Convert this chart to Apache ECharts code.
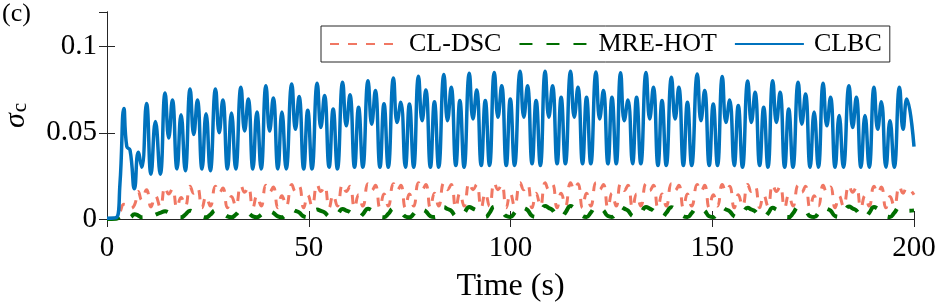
<!DOCTYPE html>
<html><head><meta charset="utf-8">
<script src="https://cdn.jsdelivr.net/npm/echarts@6/dist/echarts.min.js"></script>
<style>html,body{margin:0;padding:0;background:#fff}#c{width:941px;height:305px}</style>
</head><body><div id="c"></div>
<script>
const seriesNames = ['CL-DSC', 'MRE-HOT', 'CLBC'];
const xTickLabels = ['0', '50', '100', '150', '200'];
const yTickLabels = ['0', '0.05', '0.1'];

const time = [
  0, 2.3, 3.2, 4.2, 4.9, 5.7, 6.8, 7.75, 8.6, 9.8, 10.9, 12.0, 13.2,
  14.4, 15.3, 16.2, 17.35, 18.35, 19.4,
  20.6, 21.5, 22.4, 23.55, 24.55, 25.6,
  26.9, 27.8, 28.7, 29.85, 30.85, 31.9,
  33.2, 34.1, 35.0, 36.15, 37.15, 38.2,
  39.4, 40.3, 41.2, 42.35, 43.35, 44.4,
  45.8, 46.7, 47.6, 48.75, 49.75, 50.8,
  52.1, 53.0, 53.9, 55.05, 56.05, 57.1,
  58.4, 59.3, 60.2, 61.35, 62.35, 63.4,
  64.7, 65.6, 66.5, 67.65, 68.65, 69.7,
  71.0, 71.9, 72.8, 73.95, 74.95, 76.0,
  77.2, 78.1, 79.0, 80.15, 81.15, 82.2,
  83.5, 84.4, 85.3, 86.45, 87.45, 88.5,
  89.8, 90.7, 91.6, 92.75, 93.75, 94.8,
  96.0, 96.9, 97.8, 98.95, 99.95, 101.0,
  102.4, 103.3, 104.2, 105.35, 106.35, 107.4,
  108.6, 109.5, 110.4, 111.55, 112.55, 113.6,
  114.9, 115.8, 116.7, 117.85, 118.85, 119.9,
  121.2, 122.1, 123.0, 124.15, 125.15, 126.2,
  127.3, 128.2, 129.1, 130.25, 131.25, 132.3,
  133.6, 134.5, 135.4, 136.55, 137.55, 138.6,
  139.9, 140.8, 141.7, 142.85, 143.85, 144.9,
  146.3, 147.2, 148.1, 149.25, 150.25, 151.3,
  152.5, 153.4, 154.3, 155.45, 156.45, 157.5,
  158.8, 159.7, 160.6, 161.75, 162.75, 163.8,
  165.0, 165.9, 166.8, 167.95, 168.95, 170.0,
  171.3, 172.2, 173.1, 174.25, 175.25, 176.3,
  177.5, 178.4, 179.3, 180.45, 181.45, 182.5,
  183.9, 184.8, 185.7, 186.85, 187.85, 188.9,
  190.1, 191.0, 191.9, 193.05, 194.05, 195.1,
  196.4, 197.3, 198.2, 200
];

const clbc = [
  0.0005, 0.0008, 0.02, 0.064, 0.042, 0.040, 0.0175, 0.0387, 0.030, 0.067, 0.026, 0.0565, 0.026,
  0.073, 0.047, 0.069, 0.029, 0.0605, 0.028,
  0.0754, 0.049, 0.069, 0.029, 0.061, 0.028,
  0.0754, 0.050, 0.069, 0.029, 0.0615, 0.029,
  0.0764, 0.051, 0.0696, 0.029, 0.062, 0.029,
  0.0773, 0.051, 0.0702, 0.029, 0.062, 0.029,
  0.0783, 0.052, 0.071, 0.029, 0.063, 0.029,
  0.0787, 0.053, 0.0716, 0.030, 0.0638, 0.029,
  0.0793, 0.054, 0.072, 0.030, 0.0648, 0.030,
  0.0802, 0.055, 0.0745, 0.030, 0.0668, 0.030,
  0.0818, 0.056, 0.0677, 0.030, 0.0667, 0.030,
  0.0827, 0.057, 0.0748, 0.030, 0.068, 0.030,
  0.0837, 0.057, 0.0764, 0.031, 0.0687, 0.030,
  0.0845, 0.058, 0.0748, 0.031, 0.0687, 0.031,
  0.085, 0.059, 0.0773, 0.031, 0.0696, 0.031,
  0.0856, 0.059, 0.0773, 0.032, 0.0687, 0.031,
  0.0856, 0.059, 0.0773, 0.032, 0.0706, 0.032,
  0.0856, 0.059, 0.0764, 0.032, 0.0706, 0.032,
  0.0852, 0.058, 0.0745, 0.032, 0.0706, 0.032,
  0.0848, 0.057, 0.069, 0.032, 0.0706, 0.032,
  0.085, 0.058, 0.0764, 0.031, 0.0687, 0.031,
  0.0822, 0.058, 0.0764, 0.031, 0.0677, 0.031,
  0.0841, 0.057, 0.0745, 0.031, 0.0667, 0.031,
  0.0826, 0.056, 0.069, 0.031, 0.0658, 0.030,
  0.080, 0.056, 0.0735, 0.031, 0.0648, 0.030,
  0.0802, 0.056, 0.0735, 0.030, 0.0638, 0.030,
  0.0793, 0.055, 0.0725, 0.030, 0.062, 0.030,
  0.0787, 0.054, 0.0706, 0.030, 0.060, 0.030,
  0.0773, 0.053, 0.0706, 0.030, 0.060, 0.030,
  0.0764, 0.052, 0.068, 0.030, 0.057, 0.030,
  0.0764, 0.052, 0.0696, 0.042
];

const clDsc = [
  0, 0.0003, 0.004, 0.0085, 0.008, 0.006, 0.008, 0.016, 0.011, 0.017, 0.007, 0.0135, 0.007,
  0.0185, 0.0145, 0.0175, 0.0065, 0.0125, 0.0075,
  0.019, 0.015, 0.018, 0.0065, 0.013, 0.0075,
  0.019, 0.015, 0.018, 0.0065, 0.013, 0.0075,
  0.0195, 0.0155, 0.0185, 0.0065, 0.0135, 0.0075,
  0.0195, 0.0155, 0.0185, 0.0065, 0.0135, 0.0075,
  0.020, 0.016, 0.019, 0.0065, 0.014, 0.0075,
  0.020, 0.016, 0.019, 0.0065, 0.014, 0.0075,
  0.020, 0.016, 0.019, 0.0065, 0.014, 0.0075,
  0.0205, 0.0165, 0.0195, 0.0065, 0.0145, 0.0075,
  0.0205, 0.0165, 0.0195, 0.0065, 0.0145, 0.0075,
  0.021, 0.017, 0.020, 0.0065, 0.015, 0.0075,
  0.021, 0.017, 0.020, 0.0065, 0.015, 0.0075,
  0.021, 0.017, 0.020, 0.0065, 0.015, 0.0075,
  0.021, 0.017, 0.020, 0.0065, 0.015, 0.0075,
  0.021, 0.017, 0.020, 0.0065, 0.015, 0.0075,
  0.021, 0.017, 0.020, 0.0065, 0.015, 0.0075,
  0.021, 0.017, 0.0205, 0.0065, 0.015, 0.0075,
  0.021, 0.017, 0.020, 0.0065, 0.015, 0.0075,
  0.0205, 0.0165, 0.0195, 0.0065, 0.0145, 0.0075,
  0.0205, 0.0165, 0.0195, 0.0065, 0.0145, 0.0075,
  0.0205, 0.0165, 0.0195, 0.0065, 0.0145, 0.0075,
  0.020, 0.016, 0.0195, 0.0065, 0.014, 0.0075,
  0.020, 0.016, 0.019, 0.0065, 0.014, 0.0075,
  0.020, 0.016, 0.019, 0.0065, 0.014, 0.0075,
  0.020, 0.016, 0.019, 0.0065, 0.014, 0.0075,
  0.0195, 0.0155, 0.019, 0.0065, 0.0135, 0.0075,
  0.0195, 0.0155, 0.0185, 0.0065, 0.0135, 0.0075,
  0.0195, 0.0155, 0.0185, 0.0065, 0.0135, 0.0075,
  0.019, 0.015, 0.0185, 0.0065, 0.013, 0.0075,
  0.019, 0.015, 0.018, 0.014
];

const mreHot = [
  0, 0.0002, 0.0015, 0.003, 0.0015, 0.001, 0.0028, 0.002, 0.001, 0.0012, 0.001, 0.0025, 0.0035,
  0.0045, 0.0038, 0.0032, 0.0015, 0.001, 0.0025,
  0.0048, 0.004, 0.0034, 0.0015, 0.001, 0.0025,
  0.005, 0.0042, 0.0035, 0.0015, 0.001, 0.0025,
  0.005, 0.0042, 0.0035, 0.0015, 0.001, 0.0025,
  0.0052, 0.0044, 0.0036, 0.0015, 0.001, 0.0026,
  0.0055, 0.0047, 0.0038, 0.0015, 0.001, 0.0027,
  0.0055, 0.0047, 0.0038, 0.0015, 0.001, 0.0027,
  0.0058, 0.0049, 0.004, 0.0015, 0.001, 0.0028,
  0.006, 0.0051, 0.0042, 0.0015, 0.001, 0.003,
  0.006, 0.0051, 0.0042, 0.0015, 0.001, 0.003,
  0.0065, 0.0055, 0.0045, 0.0016, 0.0011, 0.0032,
  0.0068, 0.0058, 0.0048, 0.0016, 0.0011, 0.0034,
  0.007, 0.006, 0.0049, 0.0017, 0.0012, 0.0035,
  0.0072, 0.0061, 0.005, 0.0017, 0.0012, 0.0036,
  0.0075, 0.0064, 0.0052, 0.0018, 0.0012, 0.0037,
  0.0075, 0.0064, 0.0052, 0.0018, 0.0012, 0.0037,
  0.0075, 0.0064, 0.0052, 0.0018, 0.0012, 0.0037,
  0.0072, 0.0061, 0.005, 0.0017, 0.0012, 0.0036,
  0.007, 0.006, 0.0049, 0.0017, 0.0012, 0.0035,
  0.007, 0.006, 0.0049, 0.0017, 0.0012, 0.0035,
  0.0068, 0.0058, 0.0048, 0.0016, 0.0011, 0.0034,
  0.0068, 0.0058, 0.0048, 0.0016, 0.0011, 0.0034,
  0.0065, 0.0055, 0.0045, 0.0016, 0.0011, 0.0032,
  0.0065, 0.0055, 0.0045, 0.0016, 0.0011, 0.0032,
  0.0065, 0.0055, 0.0045, 0.0016, 0.0011, 0.0032,
  0.0068, 0.0058, 0.0048, 0.0016, 0.0011, 0.0034,
  0.007, 0.006, 0.0049, 0.0017, 0.0012, 0.0035,
  0.0072, 0.0061, 0.005, 0.0017, 0.0012, 0.0036,
  0.007, 0.006, 0.0049, 0.0017, 0.0012, 0.0035,
  0.0068, 0.0058, 0.0048, 0.005
];

const FONT = 'Liberation Serif';
const AX = '#262626';
const pairs = vals => time.map((t, i) => [t, vals[i]]);

const chart = echarts.init(document.getElementById('c'), null, {renderer: 'canvas'});
const xBase = {
  type: 'value', min: 0, max: 200, interval: 50,
  axisLine: {show: true, lineStyle: {color: AX, width: 1}},
  axisTick: {show: true, inside: true, length: 8, lineStyle: {color: AX, width: 1}},
  splitLine: {show: false}
};
const yBase = {
  type: 'value', min: 0, max: 0.12, interval: 0.05,
  axisLine: {show: true, lineStyle: {color: AX, width: 1}},
  axisTick: {show: true, inside: true, length: 8, lineStyle: {color: AX, width: 1}},
  splitLine: {show: false}
};
chart.setOption({
  animation: false,
  backgroundColor: '#fff',
  grid: {left: 107, right: 27, top: 12, bottom: 86, containLabel: false, outerBoundsMode: 'none'},
  xAxis: [
    Object.assign({}, xBase, {
      position: 'bottom',
      axisLabel: {show: true, margin: 15, fontSize: 29, fontFamily: FONT, color: '#000',
        formatter: v => xTickLabels[Math.round(v / 50)] ?? ''},
      name: 'Time (s)', nameLocation: 'middle', nameGap: 52,
      nameTextStyle: {fontSize: 32, fontFamily: FONT, color: '#000'}
    }),
    Object.assign({}, xBase, {position: 'top', axisLabel: {show: false}})
  ],
  yAxis: [
    Object.assign({}, yBase, {
      position: 'left',
      axisLabel: {show: true, margin: 10, fontSize: 29, fontFamily: FONT, color: '#000',
        showMaxLabel: false,
        formatter: v => { const i = Math.round(v / 0.05); return Math.abs(v - i * 0.05) < 1e-9 ? (yTickLabels[i] ?? '') : ''; }},
      name: '{s|σ}{c|c}', nameLocation: 'middle', nameRotate: 90, nameGap: 76,
      nameTextStyle: {
        rich: {
          s: {fontSize: 30, fontFamily: FONT, fontStyle: 'italic', color: '#000', lineHeight: 30, verticalAlign: 'top'},
          c: {fontSize: 21, fontFamily: FONT, color: '#000', lineHeight: 21, verticalAlign: 'top', padding: [9, 0, 0, 1]}
        }
      }
    }),
    Object.assign({}, yBase, {position: 'right', axisLabel: {show: false}})
  ],
  legend: {
    left: 321, top: 26,
    padding: [5, 8, 5, 8],
    itemGap: 17, itemWidth: 69, itemHeight: 14,
    backgroundColor: '#fff', borderColor: AX, borderWidth: 1,
    itemStyle: {opacity: 0},
    textStyle: {fontSize: 26, fontFamily: FONT, color: '#000', padding: [0, 0, 0, 5]},
    data: seriesNames
  },
  graphic: [
    {type: 'text', left: 2, top: 1, style: {text: '(c)', font: '26px "Liberation Serif"', fill: '#000'}}
  ],
  series: [
    {name: seriesNames[0], type: 'line', xAxisIndex: 0, yAxisIndex: 0, data: pairs(clDsc),
      smooth: 0.5, showSymbol: false, symbol: 'none',
      lineStyle: {color: '#F07763', width: 3, type: [9, 9]}, itemStyle: {color: '#F07763'}},
    {name: seriesNames[1], type: 'line', xAxisIndex: 0, yAxisIndex: 0, data: pairs(mreHot),
      smooth: 0.5, showSymbol: false, symbol: 'none',
      lineStyle: {color: '#006E00', width: 4, type: [13, 14]}, itemStyle: {color: '#006E00'}},
    {name: seriesNames[2], type: 'line', xAxisIndex: 0, yAxisIndex: 0, data: pairs(clbc),
      smooth: 0.5, showSymbol: false, symbol: 'none',
      lineStyle: {color: '#0072BD', width: 3.5}, itemStyle: {color: '#0072BD'}}
  ]
});
</script></body></html>
